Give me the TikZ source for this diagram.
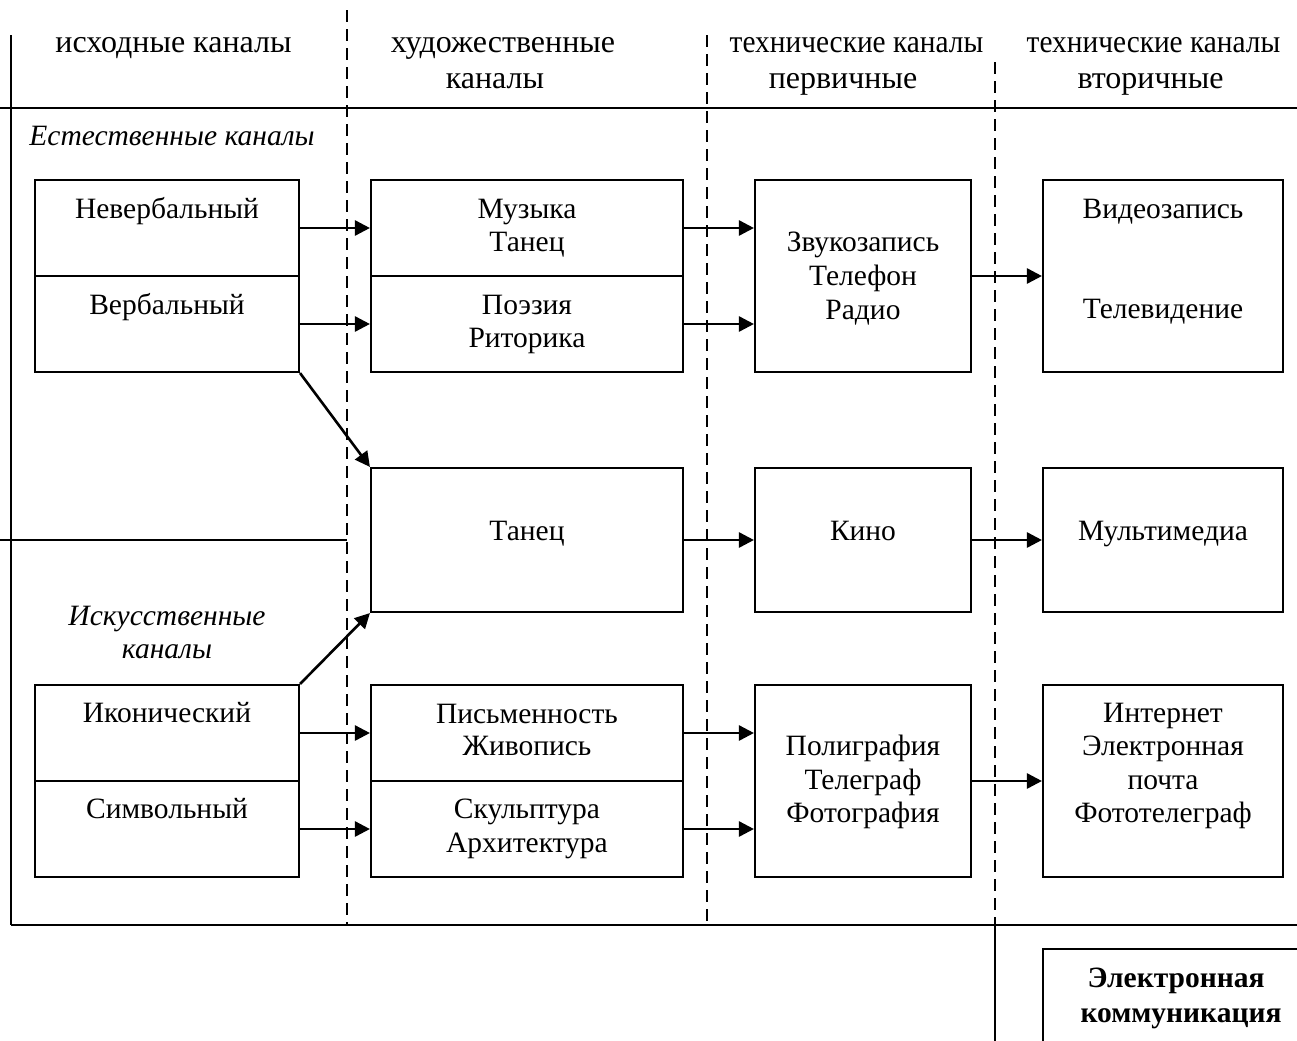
\documentclass[tikz,border=0pt]{standalone}
\usepackage{fontspec}
\setmainfont{Liberation Serif}
\usetikzlibrary{arrows.meta}
\newcommand\bxf{\fontsize{29.5bp}{34bp}\selectfont}
\newcommand\hdf{\fontsize{32bp}{36bp}\selectfont}
\begin{document}
\begin{tikzpicture}[x=1bp,y=-1bp,
  cellbox/.style={draw, line width=2.1bp, inner sep=0pt, rectangle},
  txt/.style={inner sep=0pt, anchor=base, font=\bxf},
  head/.style={inner sep=0pt, anchor=base, font=\hdf},
  frame/.style={line width=2bp},
  sep/.style={line width=2bp, dash pattern=on 12bp off 7bp},
  arr/.style={line width=2.6bp, -{Triangle[length=15bp,width=15bp]}}]
\useasboundingbox (0,0) rectangle (1297,1041);
\clip (0,0) rectangle (1297,1041);
% frame lines
\draw[frame] (11,35) -- (11,925);
\draw[frame] (0,108) -- (1297,108);
\draw[frame] (0,540) -- (347,540);
\draw[frame] (11,925) -- (1297,925);
\draw[frame] (995,925) -- (995,1041);
\draw[sep] (347,10) -- (347,925);
\draw[sep] (707,35) -- (707,925);
\draw[sep] (995,62) -- (995,925);
% headers
\node[head] (h1) at (173.5,52) {исходные каналы};
\node[head] (h2a) at (503,52) {художественные};
\node[head] (h2b) at (495,88) {каналы};
\node[head] (h3a) at (856.5,52) {\scalebox{0.917}[1]{технические каналы}};
\node[head] (h3b) at (843,88) {первичные};
\node[head] (h4a) at (1153.5,52) {\scalebox{0.917}[1]{технические каналы}};
\node[head] (h4b) at (1150.5,88) {вторичные};
\node[txt, font=\bxf\itshape] (est) at (172,145) {Естественные каналы};
\node[txt, font=\bxf\itshape] (isk1) at (167,625) {Искусственные};
\node[txt, font=\bxf\itshape] (isk2) at (167,658) {каналы};
% boxes column 1
\node[cellbox, minimum width=264bp, minimum height=96bp] (nv) at (167,228) {};
\node[cellbox, minimum width=264bp, minimum height=96bp] (vb) at (167,324) {};
\node[cellbox, minimum width=264bp, minimum height=96bp] (ik) at (167,733) {};
\node[cellbox, minimum width=264bp, minimum height=96bp] (sm) at (167,829) {};
% column 2
\node[cellbox, minimum width=312bp, minimum height=96bp] (mz) at (527,228) {};
\node[cellbox, minimum width=312bp, minimum height=96bp] (pz) at (527,324) {};
\node[cellbox, minimum width=312bp, minimum height=144bp] (tn) at (527,540) {};
\node[cellbox, minimum width=312bp, minimum height=96bp] (pm) at (527,733) {};
\node[cellbox, minimum width=312bp, minimum height=96bp] (sk) at (527,829) {};
% column 3
\node[cellbox, minimum width=216bp, minimum height=192bp] (zv) at (863,276) {};
\node[cellbox, minimum width=216bp, minimum height=144bp] (kn) at (863,540) {};
\node[cellbox, minimum width=216bp, minimum height=192bp] (pg) at (863,781) {};
% column 4
\node[cellbox, minimum width=240bp, minimum height=192bp] (vz) at (1163,276) {};
\node[cellbox, minimum width=240bp, minimum height=144bp] (mm) at (1163,540) {};
\node[cellbox, minimum width=240bp, minimum height=192bp] (in) at (1163,781) {};
\node[cellbox, minimum width=270bp, minimum height=120bp] (ek) at (1178,1009) {};
% texts
\node[txt] (t-nv) at (167,218) {Невербальный};
\node[txt] (t-vb) at (167,314) {Вербальный};
\node[txt] (t-ik) at (167,722) {Иконический};
\node[txt] (t-sm) at (167,818) {Символьный};
\node[txt] (t-mz1) at (527,218) {Музыка};
\node[txt] (t-mz2) at (527,251) {Танец};
\node[txt] (t-pz1) at (527,314) {Поэзия};
\node[txt] (t-pz2) at (527,347) {Риторика};
\node[txt] (t-tn) at (527,540) {Танец};
\node[txt] (t-pm1) at (527,723) {Письменность};
\node[txt] (t-pm2) at (527,755) {Живопись};
\node[txt] (t-sk1) at (527,818) {Скульптура};
\node[txt] (t-sk2) at (527,852) {Архитектура};
\node[txt] (t-zv1) at (863,251) {Звукозапись};
\node[txt] (t-zv2) at (863,285) {Телефон};
\node[txt] (t-zv3) at (863,319) {Радио};
\node[txt] (t-kn) at (863,540) {Кино};
\node[txt] (t-pg1) at (863,755) {Полиграфия};
\node[txt] (t-pg2) at (863,789) {Телеграф};
\node[txt] (t-pg3) at (863,822) {Фотография};
\node[txt] (t-vz1) at (1163,218) {Видеозапись};
\node[txt] (t-vz2) at (1163,318) {Телевидение};
\node[txt] (t-mm) at (1163,540) {Мультимедиа};
\node[txt] (t-in1) at (1163,722) {Интернет};
\node[txt] (t-in2) at (1163,755) {Электронная};
\node[txt] (t-in3) at (1163,789) {почта};
\node[txt] (t-in4) at (1163,822) {Фототелеграф};
\node[txt, font=\bxf\bfseries] (t-ek1) at (1176,987) {Электронная};
\node[txt, font=\bxf\bfseries] (t-ek2) at (1181,1022) {коммуникация};
% arrows
\draw[arr] (nv.east) -- (mz.west);
\draw[arr] (vb.east) -- (pz.west);
\draw[arr] (ik.east) -- (pm.west);
\draw[arr] (sm.east) -- (sk.west);
\draw[arr] (mz.east) -- (mz.east -| zv.west);
\draw[arr] (pz.east) -- (pz.east -| zv.west);
\draw[arr] (pm.east) -- (pm.east -| pg.west);
\draw[arr] (sk.east) -- (sk.east -| pg.west);
\draw[arr] (zv.east) -- (vz.west);
\draw[arr] (tn.east) -- (kn.west);
\draw[arr] (kn.east) -- (mm.west);
\draw[arr] (pg.east) -- (in.west);
\draw[arr] (vb.south east) -- (tn.north west);
\draw[arr] (ik.north east) -- (tn.south west);
\end{tikzpicture}
\end{document}
